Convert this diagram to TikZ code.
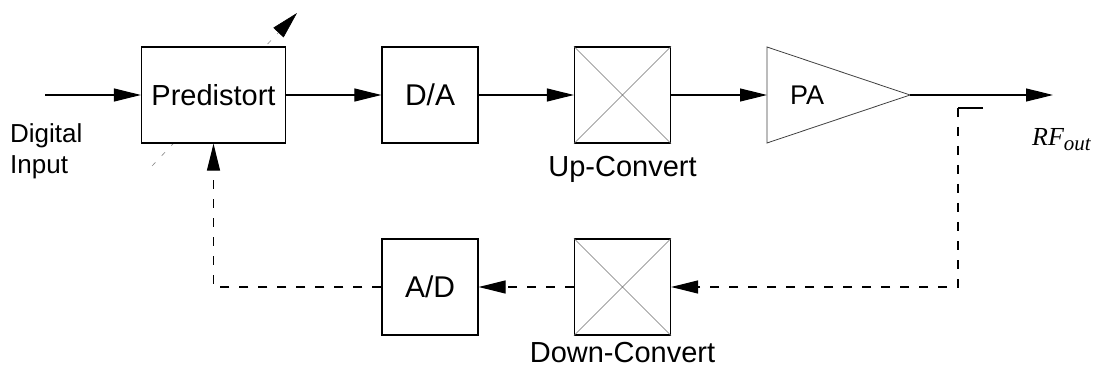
\documentclass[tikz,border=0pt]{standalone}
\usepackage{fontspec}
\setmainfont{Liberation Sans}
\newfontfamily\rmtimes{Liberation Serif}
\usetikzlibrary{arrows.meta}
\tikzset{
  blk/.style={draw=black, fill=white, line width=1.2pt, minimum width=96pt, minimum height=96pt, inner sep=0pt},
  lbl/.style={font=\fontsize{29}{29}\selectfont},
  mixline/.style={draw=black!55, line width=0.6pt},
  tip/.style={-{Triangle[length=27pt,width=13pt]}},
  conn/.style={line width=1.1pt, tip},
  fb/.style={line width=1.1pt, dash pattern=on 9pt off 10pt, tip},
}
\begin{document}
\begin{tikzpicture}[x=1pt,y=-1pt]
\useasboundingbox (0,0) rectangle (1099,371);
% adjustable arrow through Predistort
\coordinate (adjA) at (152,166);
\coordinate (adjB) at (297,13);
\draw[black!45, line width=0.6pt, dash pattern=on 5pt off 9pt, -{Triangle[length=27pt,width=14pt,black]}] (adjA) -- (adjB);
% blocks
\node[blk, minimum width=144pt, lbl] (pre) at (213.5,95) {Predistort};
\node[blk, font=\fontsize{30}{30}\selectfont] (da) at (430,95) {D/A};
\node[blk] (up) at (622.5,95) {};
\draw[mixline] (up.north west) -- (up.south east) (up.north east) -- (up.south west);
\node[blk] (dn) at (622.5,287) {};
\draw[mixline] (dn.north west) -- (dn.south east) (dn.north east) -- (dn.south west);
\node[blk, font=\fontsize{30}{30}\selectfont] (ad) at (430,287) {A/D};
% PA triangle
\coordinate (pain) at (767,95);
\coordinate (paout) at (910,95);
\draw[draw=black!75, line width=0.8pt] (767,47) -- (paout) -- (767,143) -- cycle;
\node[font=\fontsize{27}{27}\selectfont] (pa) at (807,95) {PA};
% labels
\node[anchor=base west, align=left, font=\fontsize{26}{31}\selectfont, inner sep=0pt] (din) at (10,174) {Digital\\Input};
\node[anchor=base, lbl, inner sep=0pt] (upl) at (622.5,177) {Up-Convert};
\node[anchor=base, lbl, inner sep=0pt] (dnl) at (622.5,362) {Down-Convert};
\node[anchor=base west, inner sep=0pt] (rf) at (1032,146) {\rmtimes\itshape\fontsize{26}{26}\selectfont RF\raisebox{-5pt}{\fontsize{21}{21}\selectfont out}};
% forward path
\coordinate (in) at (45,95);
\coordinate (out) at (1053,95);
\draw[conn] (in) -- (pre.west);
\draw[conn] (pre.east) -- (da.west);
\draw[conn] (da.east) -- (up.west);
\draw[conn] (up.east) -- (pain);
\draw[conn] (paout) -- (out);
% feedback path
\coordinate (tap) at (958,108);
\coordinate (tapend) at (983,108);
\coordinate (fbc) at (958,287);
\coordinate (fbl) at (213.5,287);
\draw[line width=1.1pt] (tapend) -- (tap);
\draw[fb] (tap) -- (fbc) -- (dn.east);
\draw[fb] (dn.west) -- (ad.east);
\draw[fb] (ad.west) -- (fbl) -- (pre.south);
\end{tikzpicture}
\end{document}
